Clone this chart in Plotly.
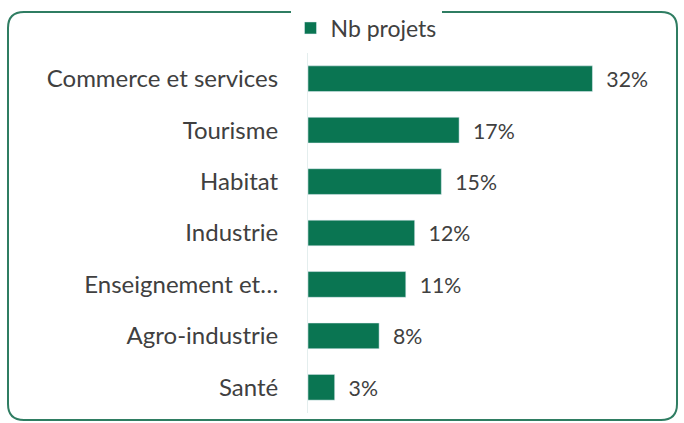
import plotly.graph_objects as go

categories = ["Commerce et services", "Tourisme", "Habitat", "Industrie",
              "Enseignement et…", "Agro-industrie", "Santé"]
values = [32, 17, 15, 12, 11, 8, 3]
series_name = "Nb projets"

bar_color = "#0a7552"
text_color = "#404040"
font_family = "Lato, 'Open Sans', sans-serif"
fs = 24

W, H = 684, 423
ML, MR, MT, MB = 308, 56, 53, 10
PW, PH = W - ML - MR, H - MT - MB


def px_x(x):
    return (x - ML) / PW


def px_y(y):
    return 1 - (y - MT) / PH


x0, x1 = px_x(8), px_x(677)
y0, y1 = px_y(420), px_y(12)
rx, ry = 16 / PW, 16 / PH
border_path = (
    f"M {x0+rx},{y1} L {x1-rx},{y1} Q {x1},{y1} {x1},{y1-ry} "
    f"L {x1},{y0+ry} Q {x1},{y0} {x1-rx},{y0} "
    f"L {x0+rx},{y0} Q {x0},{y0} {x0},{y0+ry} "
    f"L {x0},{y1-ry} Q {x0},{y1} {x0+rx},{y1} Z"
)

fig = go.Figure()
fig.add_trace(go.Bar(
    y=categories, x=values, orientation="h", name=series_name,
    marker=dict(color=bar_color),
    texttemplate="  %{x}%", textposition="outside", cliponaxis=False,
    textfont=dict(size=fs, color=text_color, family=font_family),
    showlegend=True,
))

fig.update_layout(
    width=W, height=H,
    margin=dict(l=ML, r=MR, t=MT, b=MB, autoexpand=False),
    paper_bgcolor="white", plot_bgcolor="white",
    bargap=0.5,
    font=dict(family=font_family, color=text_color, size=fs),
    showlegend=True,
    legend=dict(orientation="h", x=366 / W, xref="container", xanchor="center",
                y=1 - 28 / H, yref="container", yanchor="middle",
                font=dict(size=23, color=text_color)),
    xaxis=dict(range=[0, 36], visible=False, fixedrange=True),
    yaxis=dict(autorange="reversed", showgrid=False, zeroline=False,
               showline=True, linecolor="#e4eeee", linewidth=1,
               ticks="", ticklabelstandoff=24, automargin=False,
               tickfont=dict(size=fs, color=text_color, family=font_family)),
    shapes=[dict(
        type="path", xref="paper", yref="paper", layer="above",
        path=border_path,
        line=dict(color="#2f7d62", width=2),
    )],
)

fig.write_html("out.html", config={"displayModeBar": False},
               post_script="document.body.style.margin='0';")
